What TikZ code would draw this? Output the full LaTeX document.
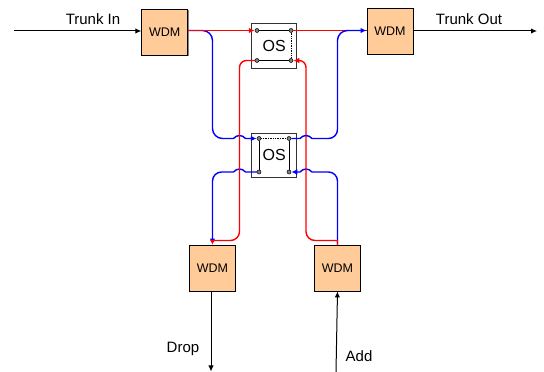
\documentclass[tikz,border=0pt]{standalone}
\usepackage{fontspec}
\setmainfont{Liberation Sans}
\usetikzlibrary{shadows,arrows.meta}
\begin{document}
\begin{tikzpicture}[%
x=1pt,y=1pt,
>={Latex[length=6pt,width=5.5pt]},
wdmbox/.style={draw=black,line width=0.9pt,fill={rgb,255:red,255;green,204;blue,153},minimum size=46pt,inner sep=0pt,font=\fontsize{12.5}{14}\selectfont,drop shadow={shadow xshift=0.8pt,shadow yshift=-0.8pt,fill=gray,opacity=1}},
osbox/.style={draw=black!80,line width=0.9pt,fill=white,minimum width=45pt,minimum height=44.5pt,inner sep=0pt,font=\fontsize{16}{17}\selectfont},
port/.style={circle,draw=black,fill=gray,line width=0.5pt,minimum size=4pt,inner sep=0pt},
trunk/.style={color=black,line width=1pt,->},
redwire/.style={color=red,line width=1.4pt},
bluewire/.style={color=blue,line width=1.4pt},
tag/.style={font=\fontsize{15}{17}\selectfont},
]
\useasboundingbox (0,0) rectangle (544,372);
%% wdm;
\node [wdmbox] (wdmin) at (164.75,340) {WDM};
\node [wdmbox] (wdmout) at (390,341) {WDM};
\node [wdmbox] (wdmdrop) at (212.5,104) {WDM};
\node [wdmbox] (wdmadd) at (337.5,104) {WDM};
%% switches;
\node [osbox] (osa) at (274.2,326) {OS};
\node [osbox] (osb) at (274.2,216.6) {OS};
%% ports;
\node [port] (a1) at (257,341.5) {};
\node [port] (a2) at (291,341.5) {};
\node [port] (a3) at (257,311.5) {};
\node [port] (a4) at (291,311.5) {};
\node [port] (b1) at (259,233.5) {};
\node [port] (b2) at (289,233.5) {};
\node [port] (b3) at (259,200) {};
\node [port] (b4) at (289,200) {};
\draw [line width=0.7pt] (a1) -- (a2);
\draw [line width=0.7pt] (a3) -- (a4);
\draw [line width=0.7pt,densely dotted] (a2) -- (a4);
\draw [line width=0.7pt,densely dotted] (b1) -- (b2);
\draw [line width=0.7pt] (b1) -- (b3);
\draw [line width=0.7pt] (b2) -- (b4);
%% trunks;
\coordinate (infree) at (14,341);
\coordinate (outfree) at (537,341);
\coordinate (dropfree) at (211,0.5);
\coordinate (addfree) at (336,0);
\draw [trunk] (infree) -- (wdmin.west |- infree);
\draw [trunk] (wdmout.east) -- (outfree);
\draw [trunk] (wdmdrop.south -| dropfree) -- (dropfree);
\draw [trunk] (addfree) -- (wdmadd.south);
%% blue under red;
\draw [bluewire,->] (wdmin.east |- a1) -- (202.5,341.5) arc (90:0:10) -- (212.5,243.5) arc (180:270:10) -- (233.5,233.5) .. controls (237,237.5) and (242,237.5) .. (245.5,233.5) -- (b1);
\draw [bluewire,->] (wdmadd.north) -- (337.5,191) arc (0:90:9) -- (312,200) .. controls (308.5,204) and (303.5,204) .. (300,200) -- (b4);
\draw [bluewire,->] (b3) -- (245.5,200) .. controls (242,204) and (237,204) .. (233.5,200) -- (221.5,200) arc (90:180:9) -- (wdmdrop.north);
%% red;
\draw [redwire,->] (wdmin.east |- a1) -- (a1);
\draw [redwire] (a2) -- (wdmout.west |- a2);
\draw [redwire,-{Latex[length=4.5pt,width=5pt]}] (a3) -- (246.5,311.5) arc (90:180:7) -- (239.5,140.5) arc (0:-90:9) -- (212.5,131.5) -- (wdmdrop.north);
\draw [redwire,->] (wdmadd.north) -- (337.5,131.5) -- (315,131.5) arc (270:180:9) -- (306,304.5) arc (0:90:7) -- (a4);
%% blue over red;
\draw [bluewire,->] (b2) -- (300,233.5) .. controls (303.5,237.5) and (308.5,237.5) .. (312,233.5) -- (328.5,233.5) arc (-90:0:9) -- (337.5,331.5) arc (180:90:10) -- (wdmout.west |- a2);
%% labels;
\node [tag] (trunkin) at (93,353) {Trunk In};
\node [tag] (trunkout) at (469,353) {Trunk Out};
\node [tag] (drop) at (183,23) {Drop};
\node [tag] (add) at (359,16) {Add};
\end{tikzpicture}
\end{document}
